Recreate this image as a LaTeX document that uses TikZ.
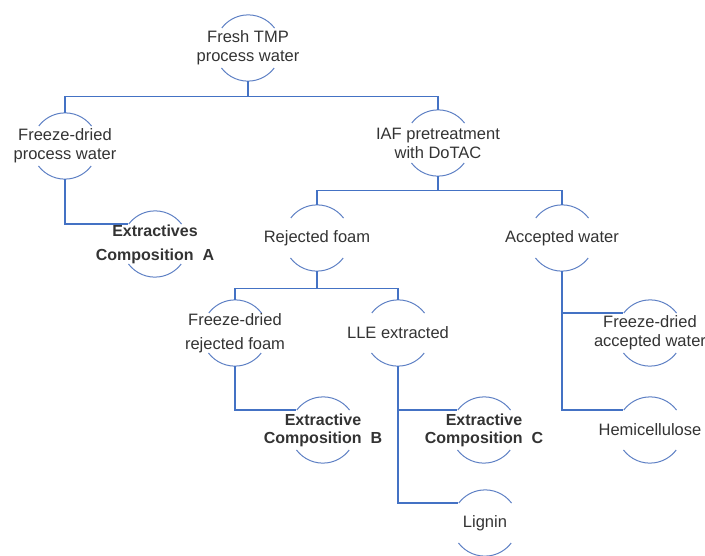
\documentclass[tikz,border=0pt]{standalone}
\usepackage{fontspec}
\setmainfont{Liberation Sans}
\definecolor{lineblue}{HTML}{4472C4}
\definecolor{arcblue}{HTML}{5E80C4}
\definecolor{txtgray}{HTML}{333333}
\begin{document}
\begin{tikzpicture}[x=1pt,y=1pt,
  circ/.style={circle,minimum size=66pt,inner sep=0pt,draw=none},
  txt/.style={align=center,text=txtgray,font=\fontsize{16.5}{19}\selectfont,inner sep=0pt},
  btxt/.style={txt,font=\fontsize{16}{19}\selectfont\bfseries},
  conn/.style={draw=lineblue,line width=1.2pt},
  arcst/.style={draw=arcblue,line width=1pt}
]
\useasboundingbox (0,0) rectangle (705,-555);
\newcommand{\cnode}[4]{%
  \node[circ] (#1) at (#2) {};
  \draw[arcst] (#1.37) arc[start angle=37,end angle=143,radius=33pt];
  \draw[arcst] (#1.217) arc[start angle=217,end angle=323,radius=33pt];
  \node[#3] at (#1) {#4};}
% nodes
\cnode{A}{248,-48}{txt}{Fresh TMP\\process water}
\cnode{B}{65,-146}{txt}{Freeze-dried\\process water}
\cnode{C}{155,-244}{btxt,font=\fontsize{16}{24}\selectfont\bfseries}{Extractives\\Composition~ A}
\cnode{D}{438,-143}{txt}{IAF pretreatment\\with DoTAC}
\cnode{E}{317,-238}{txt}{Rejected foam}
\cnode{F}{562,-238}{txt}{Accepted water}
\cnode{G}{235,-333}{txt,font=\fontsize{16.5}{24}\selectfont}{Freeze-dried\\rejected foam}
\cnode{H}{398,-333}{txt}{LLE extracted}
\cnode{I}{323,-430}{btxt,font=\fontsize{16}{18}\selectfont\bfseries}{Extractive\\Composition~ B}
\cnode{J}{484,-430}{btxt,font=\fontsize{16}{18}\selectfont\bfseries}{Extractive\\Composition~ C}
\cnode{K}{485,-523}{txt}{Lignin}
\cnode{L}{650,-333}{txt}{Freeze-dried\\accepted water}
\cnode{M}{650,-430}{txt}{Hemicellulose}
% connectors
\draw[conn] (A.south) -- ++(0,-15) -| (B.north);
\draw[conn] (A.south) -- ++(0,-15) -| (D.north);
\draw[conn] (B.south) |- (C.143);
\draw[conn] (D.south) -- ++(0,-14) -| (E.north);
\draw[conn] (D.south) -- ++(0,-14) -| (F.north);
\draw[conn] (E.south) -- ++(0,-17) -| (G.north);
\draw[conn] (E.south) -- ++(0,-17) -| (H.north);
\draw[conn] (G.south) |- (I.143);
\draw[conn] (H.south) |- (J.143);
\draw[conn] (H.south) |- (K.143);
\draw[conn] (F.south) |- (L.143);
\draw[conn] (F.south) |- (M.143);
\end{tikzpicture}
\end{document}
